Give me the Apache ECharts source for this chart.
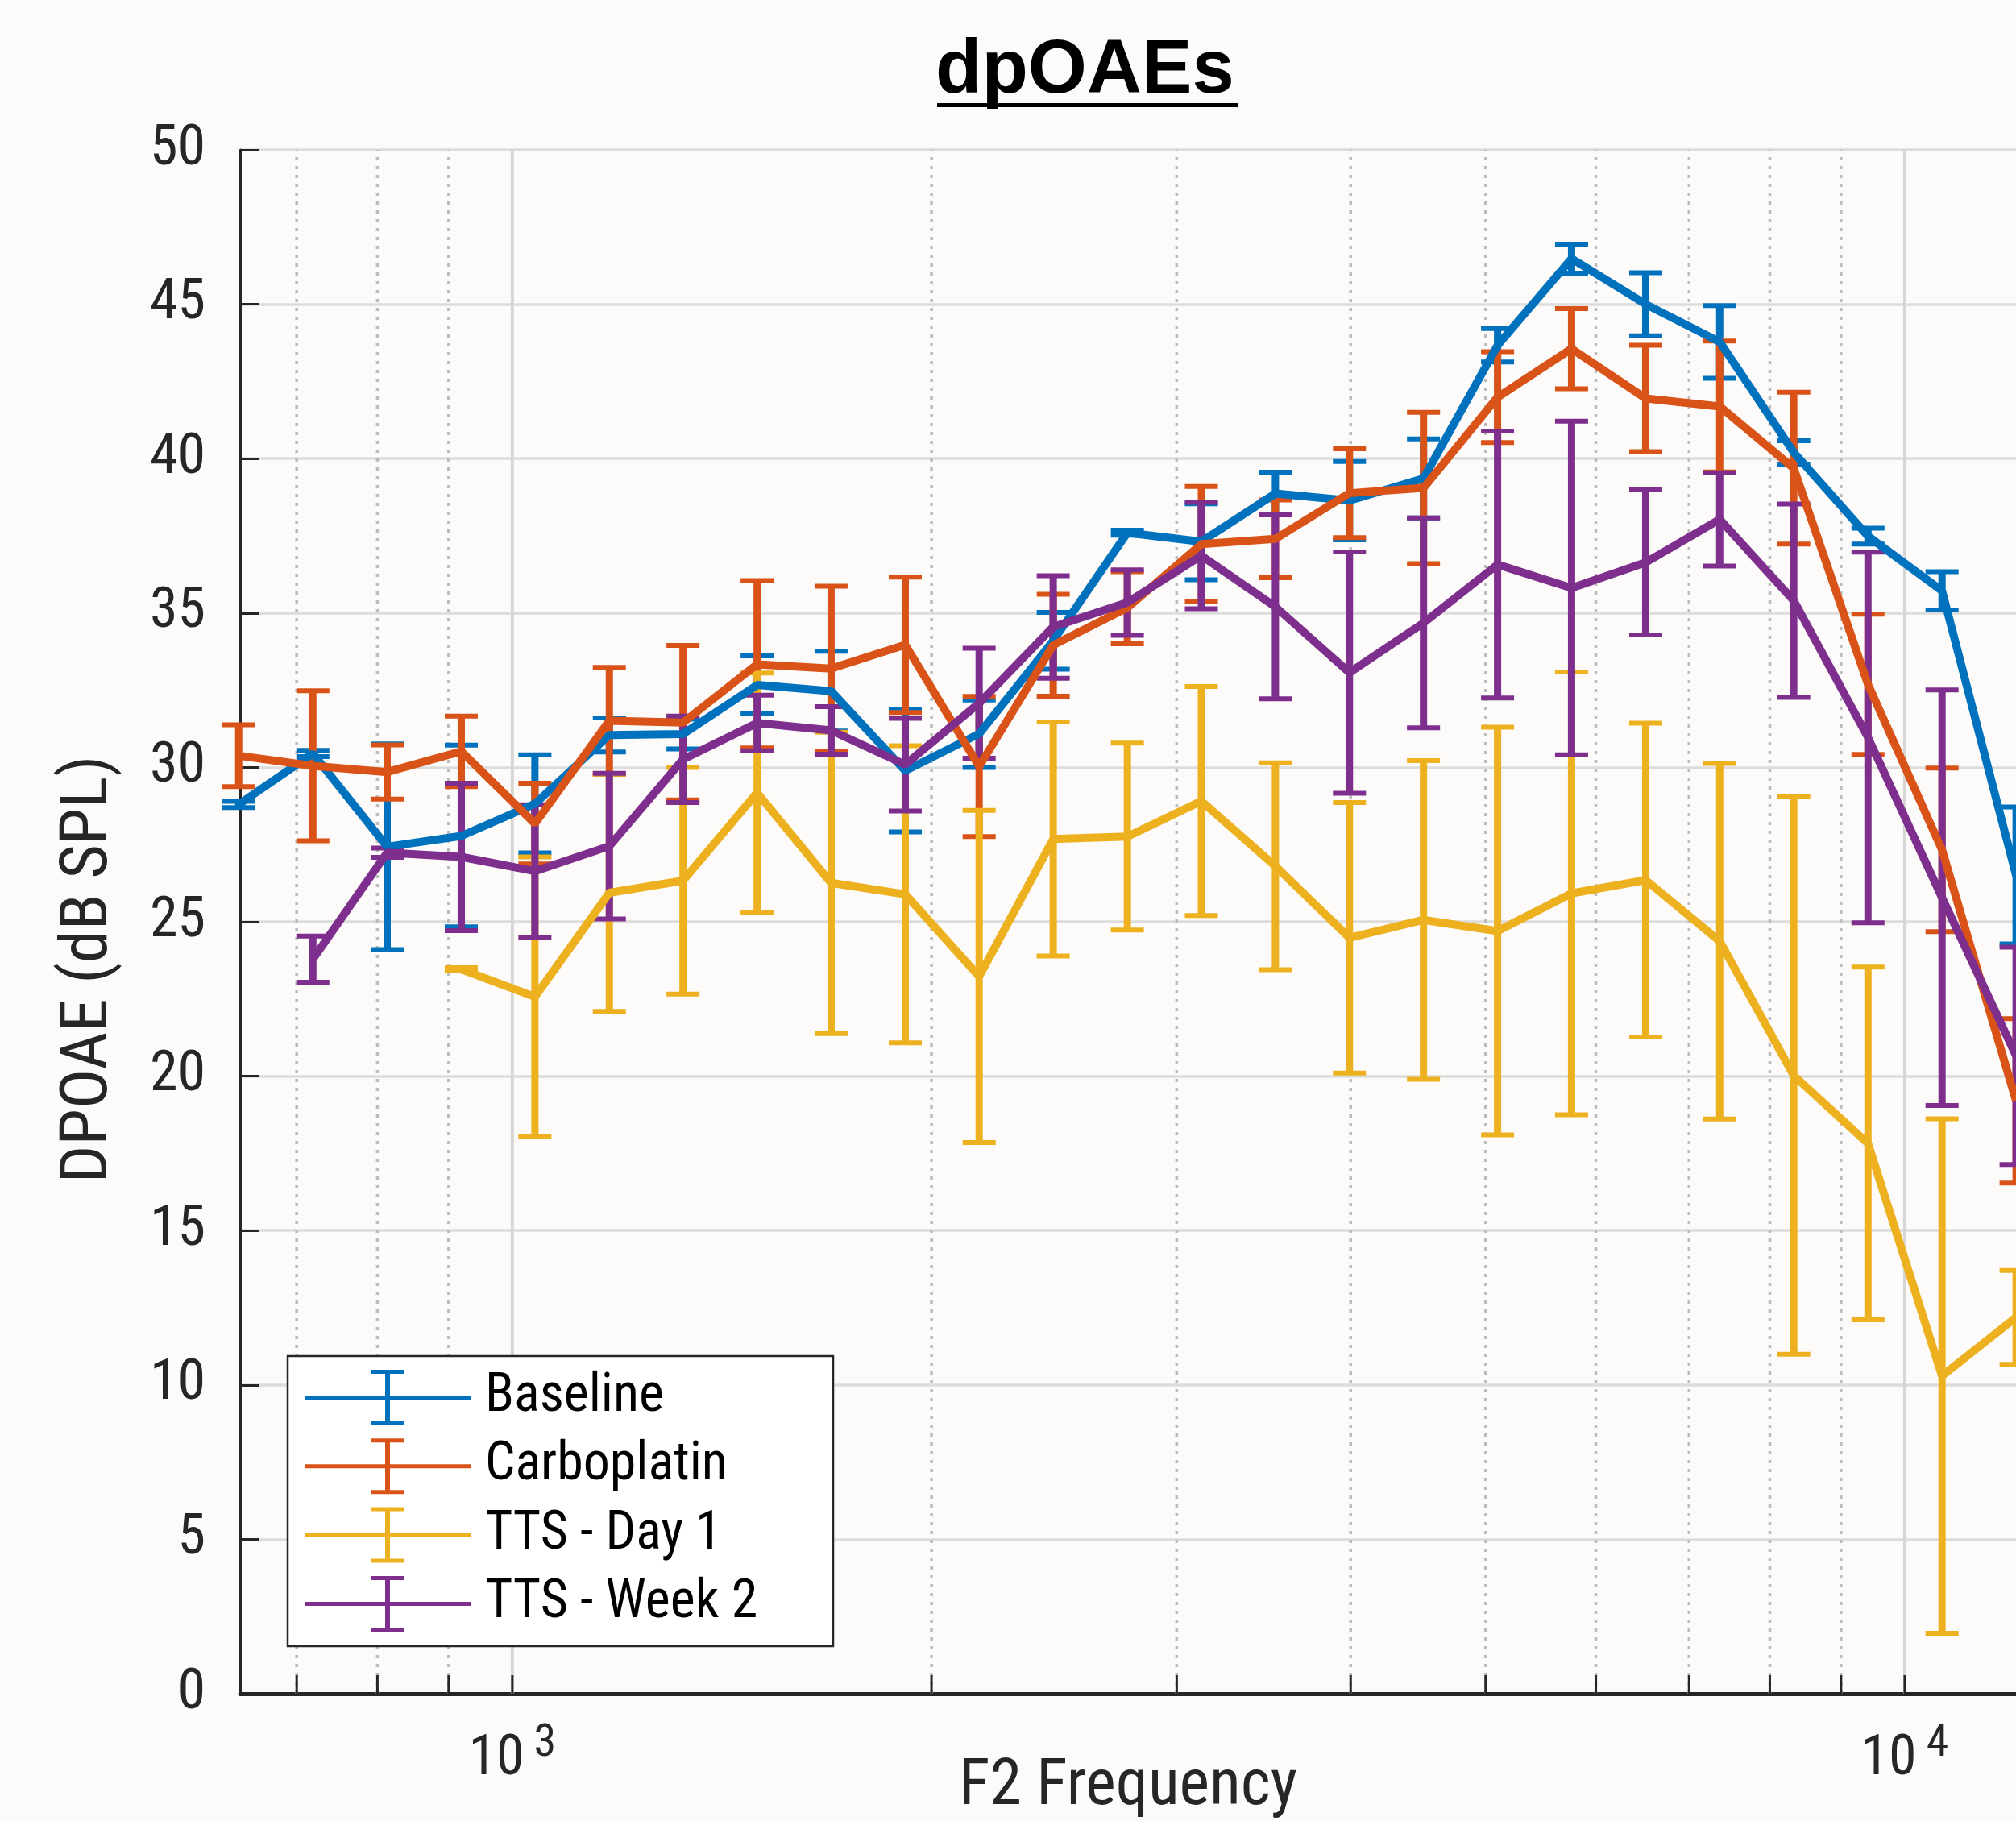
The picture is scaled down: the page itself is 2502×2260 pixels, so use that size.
<!DOCTYPE html>
<html><head><meta charset="utf-8">
<script src="https://cdn.jsdelivr.net/npm/echarts@6/dist/echarts.min.js"></script>
<style>html,body{margin:0;padding:0;background:#fcfbf9;}#c{width:2502px;height:2260px;}</style>
</head><body><div id="c"></div>
<script>
// ---- data ----
const freqs = [636, 719, 813, 919, 1038, 1174, 1326, 1499, 1694, 1915, 2164, 2446, 2765, 3125, 3532, 3992, 4512, 5100, 5764, 6516, 7364, 8323, 9410, 10636, 12022];
const seriesNames = ['Baseline', 'Carboplatin', 'TTS - Day 1', 'TTS - Week 2'];
const baselineMean = [28.8, 30.45, 27.43, 27.78, 28.82, 31.05, 31.08, 32.67, 32.47, 29.89, 31.09, 34.1, 37.6, 37.31, 38.87, 38.64, 39.36, 43.67, 46.48, 45.0, 43.78, 40.2, 37.49, 35.72, 26.5];
const baselineErr  = [0.1, 0.1, 3.33, 2.94, 1.59, 0.55, 0.48, 0.94, 1.29, 1.98, 1.09, 0.92, 0.08, 1.23, 0.69, 1.27, 1.28, 0.54, 0.47, 1.02, 1.18, 0.38, 0.26, 0.62, 2.22];
const carboMean = [30.38, 30.05, 29.85, 30.52, 28.18, 31.51, 31.45, 33.34, 33.2, 33.97, 30.03, 33.96, 35.17, 37.23, 37.4, 38.88, 39.05, 41.99, 43.56, 41.95, 41.69, 39.69, 32.69, 27.33, 19.2];
const carboErr  = [1.0, 2.43, 0.88, 1.14, 1.31, 1.73, 2.5, 2.71, 2.67, 2.19, 2.27, 1.65, 1.17, 1.87, 1.26, 1.44, 2.45, 1.47, 1.3, 1.72, 2.12, 2.46, 2.27, 2.65, 2.66];
const day1Mean = [null, null, null, 23.46, 22.57, 25.94, 26.33, 29.18, 26.26, 25.89, 23.23, 27.68, 27.76, 28.91, 26.8, 24.48, 25.06, 24.7, 25.92, 26.35, 24.37, 20.02, 17.82, 10.29, 12.19];
const day1Err  = [null, null, null, 0.05, 4.53, 3.84, 3.67, 3.88, 4.88, 4.81, 5.38, 3.79, 3.03, 3.71, 3.35, 4.38, 5.16, 6.6, 7.17, 5.08, 5.76, 9.03, 5.71, 8.33, 1.52];
const week2Mean = [null, 23.79, 27.24, 27.1, 26.64, 27.45, 30.26, 31.44, 31.2, 30.09, 32.08, 34.55, 35.34, 36.86, 35.2, 33.07, 34.68, 36.57, 35.81, 36.64, 38.03, 35.4, 30.97, 25.78, 20.66];
const week2Err  = [null, 0.75, 0.15, 2.39, 2.15, 2.36, 1.4, 0.9, 0.77, 1.5, 1.78, 1.66, 1.06, 1.72, 2.98, 3.91, 3.4, 4.32, 5.4, 2.35, 1.51, 3.13, 6.0, 6.73, 3.52];
const xMajorTicks = [1000, 10000];
const xMajorExp = ['3', '4'];
const xMinorTicks = [700, 800, 900, 2000, 3000, 4000, 5000, 6000, 7000, 8000, 9000];
const yMin = 0, yMax = 50, yStep = 5;

// ---- styling ----
const colors = ['#0072BD', '#D95319', '#EDB120', '#7E2F8E'];
const F = "'Liberation Sans Narrow', 'Roboto Condensed', Roboto, sans-serif";
const AX = '#262626';

const groups = [
  [baselineMean, baselineErr], [carboMean, carboErr], [day1Mean, day1Err], [week2Mean, week2Err]
];

function errRender(params, api) {
  const x = api.value(0), m = api.value(1), e = api.value(2);
  const t = api.coord([x, m + e]);
  const b = api.coord([x, m - e]);
  const hw = 20.5;
  const c = api.visual('color');
  return {type: 'group', children: [
    {type: 'line', shape: {x1: t[0], y1: t[1], x2: b[0], y2: b[1]}, style: {stroke: c, lineWidth: 9}},
    {type: 'line', shape: {x1: t[0] - hw, y1: t[1], x2: t[0] + hw, y2: t[1]}, style: {stroke: c, lineWidth: 6}},
    {type: 'line', shape: {x1: b[0] - hw, y1: b[1], x2: b[0] + hw, y2: b[1]}, style: {stroke: c, lineWidth: 6}}
  ]};
}
function vGridRender(major) {
  return function (params, api) {
    const v = api.value(0);
    const b = api.coord([v, yMin]), t = api.coord([v, yMax]);
    return {type: 'group', children: [
      {type: 'line', shape: {x1: b[0], y1: b[1], x2: t[0], y2: t[1]},
        style: major ? {stroke: '#d6d6d5', lineWidth: 4} : {stroke: '#bcbcbc', lineWidth: 3.5, lineDash: [4, 7]}},
      {type: 'line', shape: {x1: b[0], y1: b[1], x2: b[0], y2: b[1] - 23}, style: {stroke: AX, lineWidth: 3}}
    ]};
  };
}

const series = [
  {type: 'custom', name: 'minorGrid', data: xMinorTicks.map(v => [v, 0]), encode: {x: 0, y: 1},
   renderItem: vGridRender(false), z: 1, silent: true, clip: false},
  {type: 'custom', name: 'majorGrid', data: xMajorTicks.map(v => [v, 0]), encode: {x: 0, y: 1},
   renderItem: vGridRender(true), z: 1, silent: true, clip: false}
];
groups.forEach((g, k) => {
  const [mean, err] = g;
  const errData = [], lineData = [];
  freqs.forEach((f, i) => {
    if (mean[i] !== null) { errData.push([f, mean[i], err[i]]); lineData.push([f, mean[i]]); }
  });
  series.push({type: 'custom', name: seriesNames[k] + ' err', data: errData, encode: {x: 0, y: 1},
    renderItem: errRender, itemStyle: {color: colors[k]}, z: 2, silent: true, clip: false});
  series.push({type: 'line', name: seriesNames[k], data: lineData, showSymbol: false, symbol: 'none',
    lineStyle: {width: 10, color: colors[k]}, itemStyle: {color: colors[k]}, z: 2, silent: true});
});

const ICON = 'path://M0,32L206,32L206,37L0,37Z M100,0L106,0L106,69L100,69Z M83,0L123,0L123,5L83,5Z M83,64L123,64L123,69L83,69Z';

const chart = echarts.init(document.getElementById('c'), null, {renderer: 'canvas'});
chart.setOption({
  animation: false,
  backgroundColor: '#fcfbf9',
  title: {text: 'dpOAEs', left: 1161, top: 42, padding: 0,
    textStyle: {fontFamily: "'Liberation Sans', Arial, sans-serif", fontWeight: 'bold', fontSize: 94, color: '#000'}},
  grid: {left: 298, right: 0, top: 186, bottom: 158, containLabel: false, outerBoundsMode: 'none'},
  xAxis: {
    type: 'log', logBase: 10, min: 637.5, max: 12020,
    name: 'F2 Frequency', nameLocation: 'middle', nameGap: 77, nameMoveOverlap: false,
    nameTextStyle: {fontSize: 80, fontFamily: F, color: AX},
    axisLine: {show: true, onZero: false, lineStyle: {color: AX, width: 5}},
    axisTick: {show: false},
    splitLine: {show: false},
    minorTick: {show: false}, minorSplitLine: {show: false},
    axisLabel: {
      margin: 35,
      formatter: function (v) {
        for (let i = 0; i < xMajorTicks.length; i++) {
          if (Math.abs(v - xMajorTicks[i]) / xMajorTicks[i] < 1e-6) return '{b|10}{s|' + xMajorExp[i] + '}';
        }
        return '';
      },
      rich: {
        b: {fontSize: 70, fontFamily: F, color: AX, lineHeight: 70, padding: [24, 0, 0, 0]},
        s: {fontSize: 56, fontFamily: F, color: AX, lineHeight: 56, verticalAlign: 'top', padding: [0, 0, 0, 12]}
      }
    }
  },
  yAxis: {
    type: 'value', min: yMin, max: yMax, interval: yStep,
    name: 'DPOAE (dB SPL)', nameLocation: 'middle', nameGap: 146, nameMoveOverlap: false,
    nameTextStyle: {fontSize: 82, fontFamily: F, color: AX, padding: [0, 118, 0, 0]},
    axisLine: {show: true, lineStyle: {color: AX, width: 3}},
    axisTick: {show: true, inside: true, length: 23, lineStyle: {color: AX, width: 3}},
    axisLabel: {margin: 43, fontSize: 70, fontFamily: F, color: AX},
    splitLine: {show: true, lineStyle: {color: '#dcdcdb', width: 3.5}}
  },
  legend: {
    orient: 'vertical', left: 378, top: 1700, padding: 0,
    itemWidth: 206, itemHeight: 69, itemGap: 16.3, selectedMode: false, z: 6,
    textStyle: {fontSize: 66, fontFamily: F, color: '#000', padding: [0, 0, 0, 13]},
    data: seriesNames.map((n, i) => ({name: n, icon: ICON, itemStyle: {color: colors[i], borderWidth: 0}}))
  },
  graphic: [
    {type: 'rect', shape: {x: 357, y: 1683, width: 677, height: 360}, style: {fill: '#ffffff', stroke: AX, lineWidth: 2.5}, z: 5},
    {type: 'rect', shape: {x: 1163, y: 128, width: 374, height: 5}, style: {fill: '#000'}, z: 5}
  ],
  series: series
});
</script></body></html>
